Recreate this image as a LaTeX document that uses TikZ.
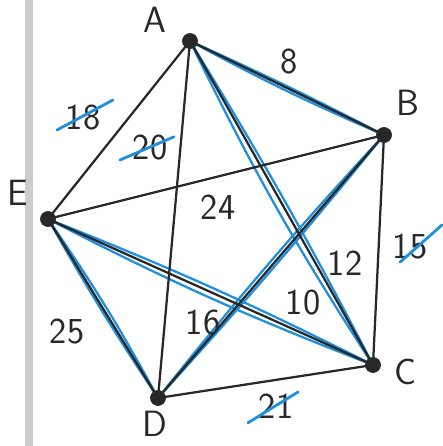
\documentclass[tikz,border=0pt]{standalone}
\usepackage{tikz}
\usetikzlibrary{calc,positioning}
\definecolor{hlblue}{RGB}{30,142,222}
\definecolor{inkgray}{RGB}{40,40,40}

\begin{document}
\begin{tikzpicture}[
        edge/.style={draw=inkgray, line width=1.6pt},
        tour/.style={draw=hlblue, line width=1.6pt, line cap=round},
        tick/.style={draw=hlblue, line width=2pt, line cap=round},
        lbl/.style={font=\sffamily\fontsize{26}{30}\selectfont, text=inkgray, inner sep=0pt}
    ]
        \useasboundingbox (0,0) rectangle (11.05,11.15);
        \fill[gray!40] (0.62,0) rectangle (0.82,11.15);

        % vertices
        \coordinate (A) at (4.75, 10.125);
        \coordinate (B) at (9.6, 7.775);
        \coordinate (C) at (9.325, 2.025);
        \coordinate (D) at (3.95, 1.2);
        \coordinate (E) at (1.2, 5.675);

        % highlighted cycle
        \draw [tour] (A) to[bend left=1.5] (B);
        \draw [tour] (A) to[bend right=2.5] (B);
        \draw [tour] (A) to[bend left=2] (C);
        \draw [tour] (A) to[bend right=3.5] (C);
        \draw [tour] (B) to[bend left=1.5] (D);
        \draw [tour] (B) to[bend right=2] (D);
        \draw [tour] (E) to[bend left=2.5] (C);
        \draw [tour] (E) to[bend right=3] (C);
        \draw [tour] (E) to[bend left=3] (D);
        \draw [tour] (E) to[bend right=2] (D);

        % all edges
        \foreach \u/\v in {A/B,A/C,A/D,A/E,B/C,B/D,B/E,C/D,C/E,D/E}
            \draw [edge] (\u) -- (\v);

        \foreach \p in {A,B,C,D,E}
            \filldraw [inkgray] (\p) circle [radius=0.19];

        \node[lbl] (la) at (3.875, 10.65) {A};
        \node[lbl] (lb) at (10.2, 8.575) {B};
        \node[lbl] (lc) at (10.125, 1.85) {C};
        \node[lbl] (ld) at (3.875, 0.56) {D};
        \node[lbl] (le) at (0.45, 6.325) {E};

        % weights
        \node[lbl] (w8) at (7.225, 9.6) {8};
        \node[lbl] (w18) at (2.075, 8.2) {18};
        \node[lbl] (w20) at (3.75, 7.45) {20};
        \node[lbl] (w24) at (5.45, 5.975) {24};
        \node[lbl] (w12) at (8.625, 4.575) {12};
        \node[lbl] (w15) at (10.25, 4.975) {15};
        \node[lbl] (w10) at (7.575, 3.575) {10};
        \node[lbl] (w16) at (5.075, 3.075) {16};
        \node[lbl] (w25) at (1.675, 2.85) {25};
        \node[lbl] (w21) at (6.9, 1.0) {21};

        % struck-through weights
        \draw [tick] ($(w18) + (-0.65,-0.3)$) -- ($(w18) + (0.75,0.45)$);
        \draw [tick] ($(w20) + (-0.75,-0.3)$) -- ($(w20) + (0.6,0.28)$);
        \draw [tick] ($(w15) + (-0.25,-0.38)$) -- ($(w15) + (0.8,0.55)$);
        \draw [tick] ($(w21) + (-0.7,-0.42)$) -- ($(w21) + (0.55,0.35)$);
    \end{tikzpicture}
\end{document}
